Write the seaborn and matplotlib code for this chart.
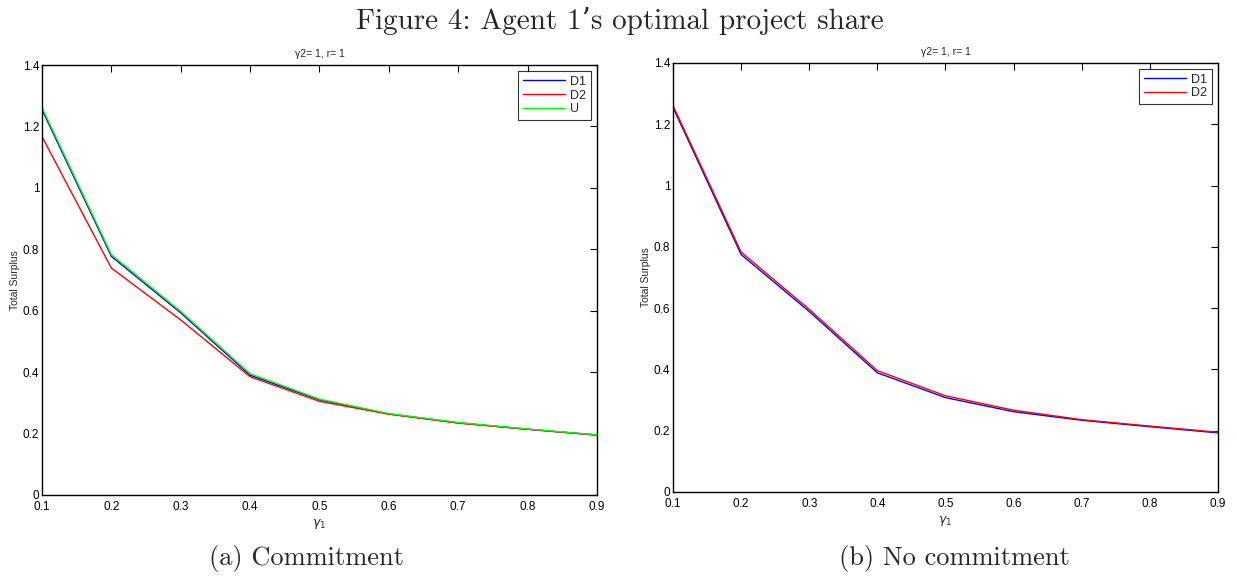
import numpy as np
import pandas as pd
import matplotlib
matplotlib.use("Agg")
import matplotlib.pyplot as plt
import seaborn as sns
from matplotlib.ticker import FuncFormatter

gamma1 = [0.1, 0.2, 0.3, 0.4, 0.5, 0.6, 0.7, 0.8, 0.9]
commit_D1 = [1.255, 0.777, 0.593, 0.390, 0.310, 0.264, 0.235, 0.214, 0.195]
commit_D2 = [1.167, 0.739, 0.570, 0.385, 0.305, 0.263, 0.234, 0.214, 0.195]
commit_U = [1.262, 0.783, 0.598, 0.395, 0.312, 0.265, 0.236, 0.215, 0.196]
nocommit_D1 = [1.255, 0.775, 0.589, 0.389, 0.308, 0.262, 0.234, 0.213, 0.193]
nocommit_D2 = [1.261, 0.783, 0.596, 0.396, 0.314, 0.267, 0.236, 0.215, 0.195]

sns.set_theme(style="white")
plt.rcParams['font.family'] = ['Liberation Sans', 'DejaVu Sans']

fig = plt.figure(figsize=(12.39, 5.79), dpi=100)
axL = fig.add_axes([0.0339, 0.1451, 0.4479, 0.7426])
axR = fig.add_axes([0.5432, 0.1503, 0.4398, 0.7409])

def make_df(series):
    rows = []
    for name, vals in series:
        for x, v in zip(gamma1, vals):
            rows.append({"gamma1": x, "surplus": v, "series": name})
    return pd.DataFrame(rows)

dfL = make_df([("D1", commit_D1), ("D2", commit_D2), ("U", commit_U)])
dfR = make_df([("D1", nocommit_D1), ("D2", nocommit_D2)])

palL = {"D1": "#0000ff", "D2": "#ff0000", "U": "#00ff00"}
palR = {"D1": "#0000ff", "D2": "#ff0000"}

for ax, df, pal in [(axL, dfL, palL), (axR, dfR, palR)]:
    sns.lineplot(data=df, x="gamma1", y="surplus", hue="series", palette=pal,
                 ax=ax, linewidth=1.0, sort=False, estimator=None)
    ax.set_xlim(0.1, 0.9)
    ax.set_ylim(0, 1.4)
    ax.set_xticks(gamma1)
    ax.set_yticks(np.arange(0, 1.41, 0.2))
    ax.xaxis.set_major_formatter(FuncFormatter(lambda v, p: "%g" % round(v, 2)))
    ax.yaxis.set_major_formatter(FuncFormatter(lambda v, p: "%g" % round(v, 2)))
    ax.tick_params(direction="in", top=True, right=True, length=5, width=0.8,
                   labelsize=8.5, colors="black")
    ax.tick_params(axis="x", pad=4)
    ax.tick_params(axis="y", pad=2)
    for s in ax.spines.values():
        s.set_color("black")
        s.set_linewidth(1.0)
    ax.set_xlabel("$\\gamma_1$", fontsize=9, labelpad=3)
    ax.set_ylabel("Total Surplus", fontsize=7.5, labelpad=2)
    ax.set_title("\u03b32= 1, r= 1", fontsize=7.5, pad=6)
    leg = ax.legend(loc="upper right", fontsize=9, frameon=True, fancybox=False,
                    borderpad=0.35, handlelength=3.4, labelspacing=0.15,
                    borderaxespad=0.5, handletextpad=0.4)
    leg.get_frame().set_edgecolor("black")
    leg.get_frame().set_linewidth(0.8)
    leg.set_title(None)

serif = ["cmr10", "DejaVu Serif"]
fig.text(0.5, 0.963, "Figure 4: Agent 1\u2019s optimal project share", ha="center", va="center",
         fontsize=21, family=serif)
fig.text(0.247, 0.036, "(a) Commitment", ha="center", va="center",
         fontsize=19, family=serif)
fig.text(0.77, 0.036, "(b) No commitment", ha="center", va="center",
         fontsize=19, family=serif)

fig.savefig("out.png", dpi=100)
